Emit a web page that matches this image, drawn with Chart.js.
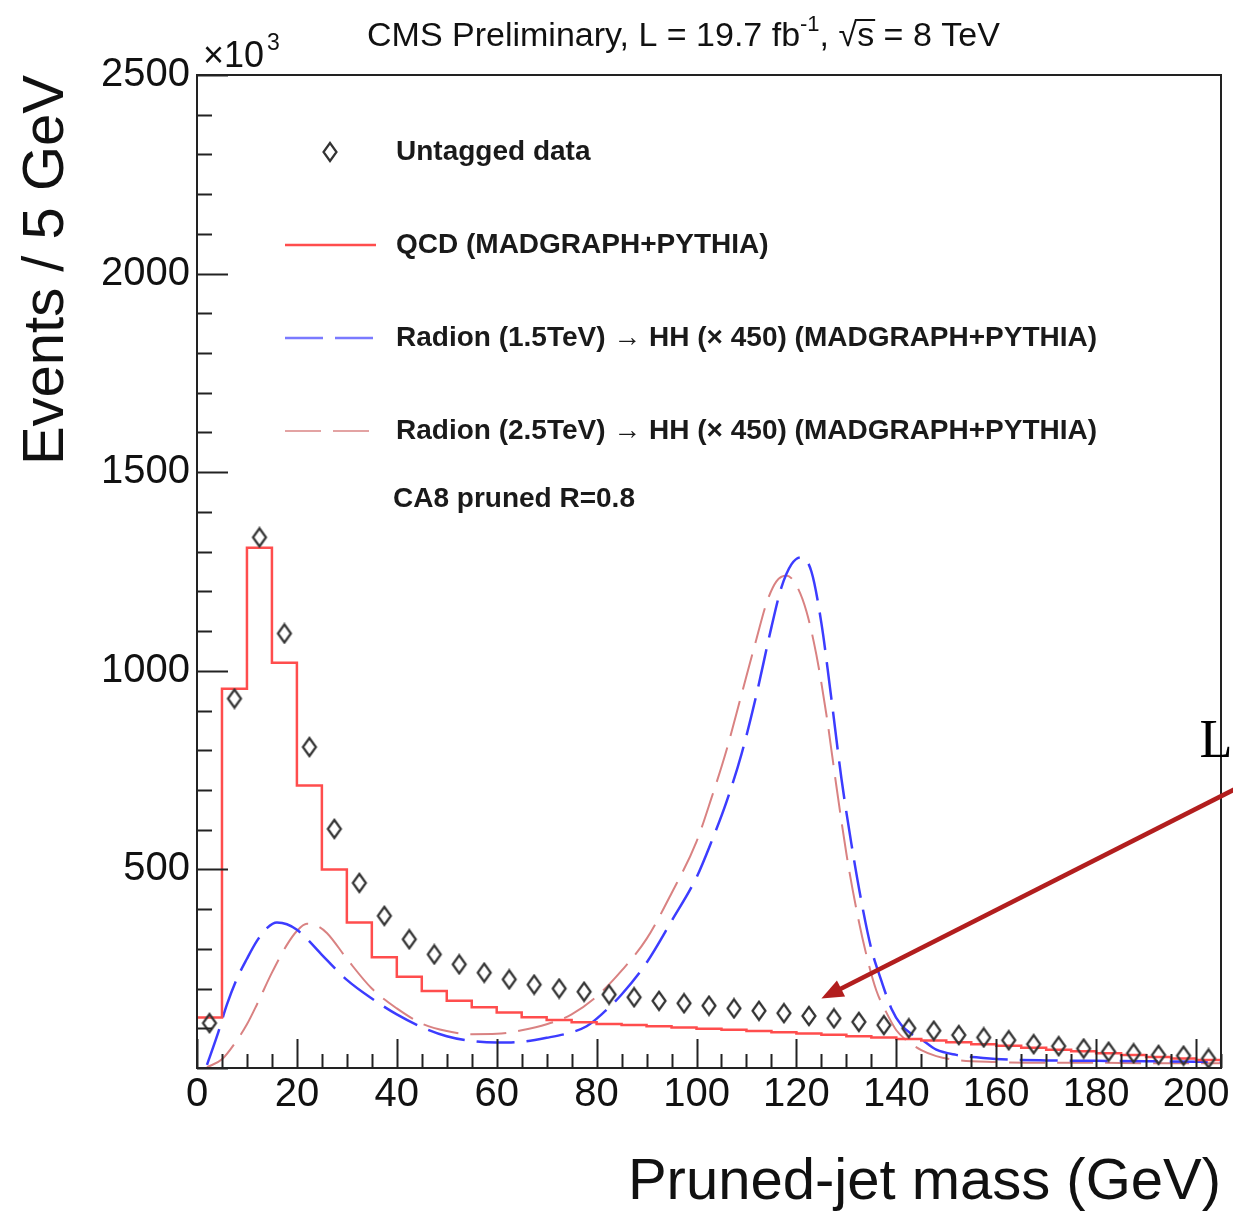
<!DOCTYPE html>
<html>
<head>
<meta charset="utf-8">
<title>Pruned-jet mass</title>
<script src="https://cdn.jsdelivr.net/npm/chart.js@4.4.1/dist/chart.umd.min.js"></script>
<style>
  html, body { margin: 0; padding: 0; background: #fff; }
  canvas { display: block; }
</style>
</head>
<body>
<canvas id="massChart" width="1233" height="1212"></canvas>
<script>
// pruned-jet mass plot

// Untagged data: bin centres (GeV) and events (x10^3)
const dataMass = [2.5, 7.5, 12.5, 17.5, 22.5, 27.5, 32.5, 37.5, 42.5, 47.5, 52.5, 57.5, 62.5, 67.5,
    72.5, 77.5, 82.5, 87.5, 92.5, 97.5, 102.5, 107.5, 112.5, 117.5, 122.5, 127.5, 132.5, 137.5,
    142.5, 147.5, 152.5, 157.5, 162.5, 167.5, 172.5, 177.5, 182.5, 187.5, 192.5, 197.5, 202.5];
const dataEvents = [113, 930, 1336, 1094, 808, 602, 466, 383, 324, 286, 261, 240, 223, 210,
    200, 192, 185, 178, 169, 163, 157, 150, 144, 138, 131, 125, 116, 108,
    100, 94, 83, 77, 70, 60, 55, 49, 41, 37, 33, 31, 24];

// QCD histogram: bin edges and content of the bin starting at each edge
const qcdEdges = [0, 5, 10, 15, 20, 25, 30, 35, 40, 45, 50, 55, 60, 65, 70, 75, 80, 85, 90, 95, 100,
    105, 110, 115, 120, 125, 130, 135, 140, 145, 150, 155, 160, 165, 170, 175, 180, 185, 190, 195, 200, 205];
const qcdEvents = [127, 955, 1310, 1020, 711, 500, 366, 279, 230, 194, 169, 153, 140, 128, 121, 115, 111,
    108, 105, 102, 99, 96, 93, 90, 87, 84, 80, 77, 73, 69, 65, 60, 56, 51, 46, 42, 37, 33, 28, 24, 20];

// Radion 1.5 TeV (x450)
const radion15Mass = [2, 4, 6, 8, 10, 12, 14, 16, 18, 20, 22, 25, 30, 35, 40, 45, 50, 55, 60, 65, 70, 75,
    78, 81, 85, 90, 95, 100, 103, 106, 109, 112, 115, 117, 119, 121, 123, 125, 127, 129, 131, 133, 135,
    137, 139, 141, 143, 145, 148, 152, 156, 161, 170, 180, 190, 200, 205];
const radion15Events = [8, 80, 160, 225, 275, 320, 352, 366, 362, 348, 325, 285, 222, 175, 135, 103, 80,
    68, 64, 66, 76, 90, 105, 135, 185, 265, 370, 480, 570, 670, 790, 940, 1110, 1210, 1268, 1286, 1250,
    1120, 930, 730, 565, 420, 300, 220, 150, 108, 86, 72, 46, 33, 27, 22, 19, 18, 17, 16, 16];

// Radion 2.5 TeV (x450)
const radion25Mass = [2, 5, 8, 10, 12, 15, 18, 20, 22, 24, 26, 30, 35, 40, 45, 50, 55, 60, 65, 70, 75, 80,
    85, 90, 95, 100, 103, 106, 109, 112, 114, 116, 118, 120, 122, 124, 126, 128, 130, 132, 134, 136, 138,
    140, 142, 145, 148, 152, 160, 170, 180, 190, 200, 205];
const radion25Events = [2, 22, 70, 110, 160, 240, 310, 345, 363, 358, 340, 275, 200, 150, 112, 93, 85, 86,
    95, 110, 135, 180, 245, 325, 440, 570, 680, 800, 940, 1080, 1170, 1225, 1240, 1215, 1150, 1040, 890,
    710, 540, 400, 285, 195, 140, 95, 70, 45, 30, 20, 15, 13, 13, 12, 12, 12];

// labelled ticks
const xTickLabels = [0, 20, 40, 60, 80, 100, 120, 140, 160, 180, 200];
const yTickLabels = [500, 1000, 1500, 2000, 2500];

const FONT = '"Liberation Sans", Arial, Helvetica, sans-serif';
Chart.defaults.font.family = FONT;
Chart.defaults.color = '#111';

function toPoints(xs, ys) {
    return xs.map((x, i) => ({ x: x, y: ys[Math.min(i, ys.length - 1)] }));
}

// open diamond marker, like ROOT marker 27
const diamond = document.createElement('canvas');
diamond.width = 18;
diamond.height = 22;
const dctx = diamond.getContext('2d');
dctx.strokeStyle = '#333';
dctx.lineWidth = 2.2;
dctx.beginPath();
dctx.moveTo(9, 2);
dctx.lineTo(15.5, 11);
dctx.lineTo(9, 20);
dctx.lineTo(2.5, 11);
dctx.closePath();
dctx.stroke();

// frame, inward ticks, legend and texts
const rootStyle = {
    id: 'rootStyle',
    afterDatasetsDraw(chart) {
        const ctx = chart.ctx;
        const a = chart.chartArea;
        const xs = chart.scales.x, ys = chart.scales.y;
        ctx.save();
        ctx.strokeStyle = '#222';
        ctx.lineWidth = 2;
        ctx.beginPath();
        xs.ticks.forEach(t => {
            const px = Math.round(xs.getPixelForValue(t.value)) + 0.5;
            const len = t.value % 20 === 0 ? 29 : 14;
            ctx.moveTo(px, a.bottom);
            ctx.lineTo(px, a.bottom - len);
        });
        ys.ticks.forEach(t => {
            const py = Math.round(ys.getPixelForValue(t.value)) + 0.5;
            const len = t.value % 500 === 0 ? 31 : 15;
            ctx.moveTo(a.left, py);
            ctx.lineTo(a.left + len, py);
        });
        ctx.stroke();
        ctx.strokeRect(a.left, a.top, a.right - a.left, a.bottom - a.top);
        ctx.restore();
    },
    afterDraw(chart) {
        const ctx = chart.ctx;
        const a = chart.chartArea;
        const xs = chart.scales.x, ys = chart.scales.y;
        ctx.save();

        // title
        ctx.fillStyle = '#111';
        ctx.textBaseline = 'alphabetic';
        const big = '34px ' + FONT, small = '22px ' + FONT;
        let x = 367;
        const y = 46;
        ctx.font = big;
        const part1 = 'CMS Preliminary, L = 19.7 fb';
        ctx.fillText(part1, x, y);
        x += ctx.measureText(part1).width;
        ctx.font = small;
        ctx.fillText('-1', x, y - 15);
        x += ctx.measureText('-1').width;
        ctx.font = big;
        ctx.fillText(', ', x, y);
        x += ctx.measureText(', ').width;
        const wRoot = ctx.measureText('√').width, wS = ctx.measureText('s').width;
        ctx.fillText('√s', x, y);
        ctx.fillRect(x + wRoot - 1, y - 27, wS + 2, 2);
        x += wRoot + wS;
        ctx.fillText(' = 8 TeV', x, y);

        // exponent
        ctx.font = '36px ' + FONT;
        ctx.fillText('×10', 203, 67);
        const w10 = ctx.measureText('×10').width;
        ctx.font = '23px ' + FONT;
        ctx.fillText('3', 203 + w10 + 3, 50);

        // legend
        const rows = [77, 170, 263, 356];
        chart.data.datasets.forEach((ds, i) => {
            const ry = a.top + rows[i];
            if (ds.showLine === false) {
                ctx.drawImage(diamond, a.left + 133 - 9, ry - 11);
            } else {
                ctx.save();
                ctx.strokeStyle = ds.legendColor || ds.borderColor;
                ctx.lineWidth = ds.borderWidth;
                ctx.setLineDash(ds.borderDash || []);
                ctx.beginPath();
                ctx.moveTo(a.left + 88, ry);
                ctx.lineTo(a.left + 179, ry);
                ctx.stroke();
                ctx.restore();
            }
            ctx.fillStyle = '#1a1a1a';
            ctx.font = 'bold 28px ' + FONT;
            ctx.textBaseline = 'middle';
            ctx.fillText(ds.label, a.left + 199, ry);
        });
        ctx.font = 'bold 28px ' + FONT;
        ctx.fillText('CA8 pruned R=0.8', a.left + 196, a.top + 424);

        // annotation arrow and letter
        const tipX = xs.getPixelForValue(125), tipY = ys.getPixelForValue(175);
        const tailX = xs.getPixelForValue(215), tailY = ys.getPixelForValue(748);
        const ang = Math.atan2(tipY - tailY, tipX - tailX);
        ctx.strokeStyle = '#b21e1e';
        ctx.fillStyle = '#b21e1e';
        ctx.lineWidth = 4.5;
        ctx.beginPath();
        ctx.moveTo(tailX, tailY);
        ctx.lineTo(tipX - 14 * Math.cos(ang), tipY - 14 * Math.sin(ang));
        ctx.stroke();
        ctx.beginPath();
        ctx.moveTo(tipX, tipY);
        ctx.lineTo(tipX - 22 * Math.cos(ang) + 9 * Math.sin(ang), tipY - 22 * Math.sin(ang) - 9 * Math.cos(ang));
        ctx.lineTo(tipX - 22 * Math.cos(ang) - 9 * Math.sin(ang), tipY - 22 * Math.sin(ang) + 9 * Math.cos(ang));
        ctx.closePath();
        ctx.fill();

        ctx.fillStyle = '#000';
        ctx.font = '54px "Liberation Serif", "Times New Roman", serif';
        ctx.textAlign = 'center';
        ctx.textBaseline = 'alphabetic';
        ctx.fillText('L', xs.getPixelForValue(204), ys.getPixelForValue(782));
        ctx.restore();
    }
};

const ctx = document.getElementById('massChart').getContext('2d');
const myChart = new Chart(ctx, {
    type: 'line',
    data: {
        datasets: [{
            label: 'Untagged data',
            data: toPoints(dataMass, dataEvents),
            showLine: false,
            pointStyle: diamond,
            pointRadius: 9,
            borderColor: '#333'
        }, {
            label: 'QCD (MADGRAPH+PYTHIA)',
            data: toPoints(qcdEdges, qcdEvents),
            stepped: true,
            borderColor: '#ff4d4d',
            borderWidth: 2.5,
            pointRadius: 0
        }, {
            label: 'Radion (1.5TeV) → HH (× 450) (MADGRAPH+PYTHIA)',
            data: toPoints(radion15Mass, radion15Events),
            borderColor: '#3c3cff',
            legendColor: '#7a7aff',
            borderWidth: 2.5,
            borderDash: [38, 12],
            cubicInterpolationMode: 'monotone',
            pointRadius: 0
        }, {
            label: 'Radion (2.5TeV) → HH (× 450) (MADGRAPH+PYTHIA)',
            data: toPoints(radion25Mass, radion25Events),
            borderColor: '#d98282',
            legendColor: '#e3a3a3',
            borderWidth: 2,
            borderDash: [36, 12],
            cubicInterpolationMode: 'monotone',
            pointRadius: 0
        }]
    },
    options: {
        responsive: false,
        animation: false,
        layout: { padding: { top: 75, right: 12, left: 0, bottom: 0 } },
        plugins: {
            legend: { display: false },
            tooltip: { enabled: false }
        },
        scales: {
            x: {
                type: 'linear',
                min: 0,
                max: 205,
                grid: { display: false, drawTicks: false },
                border: { display: false },
                ticks: {
                    stepSize: 5,
                    autoSkip: false,
                    maxRotation: 0,
                    padding: 3,
                    color: '#111',
                    font: { size: 40 },
                    callback: v => xTickLabels.includes(v) ? String(v) : ''
                },
                title: {
                    display: true,
                    text: 'Pruned-jet mass (GeV)',
                    align: 'end',
                    color: '#111',
                    font: { size: 58, lineHeight: 1 },
                    padding: { top: 0, bottom: 0 }
                },
                afterFit: s => { s.height = 144; }
            },
            y: {
                min: 0,
                max: 2500,
                grid: { display: false, drawTicks: false },
                border: { display: false },
                ticks: {
                    stepSize: 100,
                    autoSkip: false,
                    padding: 7,
                    color: '#111',
                    font: { size: 40 },
                    callback: v => yTickLabels.includes(v) ? String(v) : ''
                },
                title: {
                    display: true,
                    text: 'Events / 5 GeV',
                    align: 'end',
                    color: '#111',
                    font: { size: 58, lineHeight: 1 },
                    padding: { top: 18, bottom: 0 }
                },
                afterFit: s => { s.width = 197; }
            }
        }
    },
    plugins: [rootStyle]
});
</script>
</body>
</html>
